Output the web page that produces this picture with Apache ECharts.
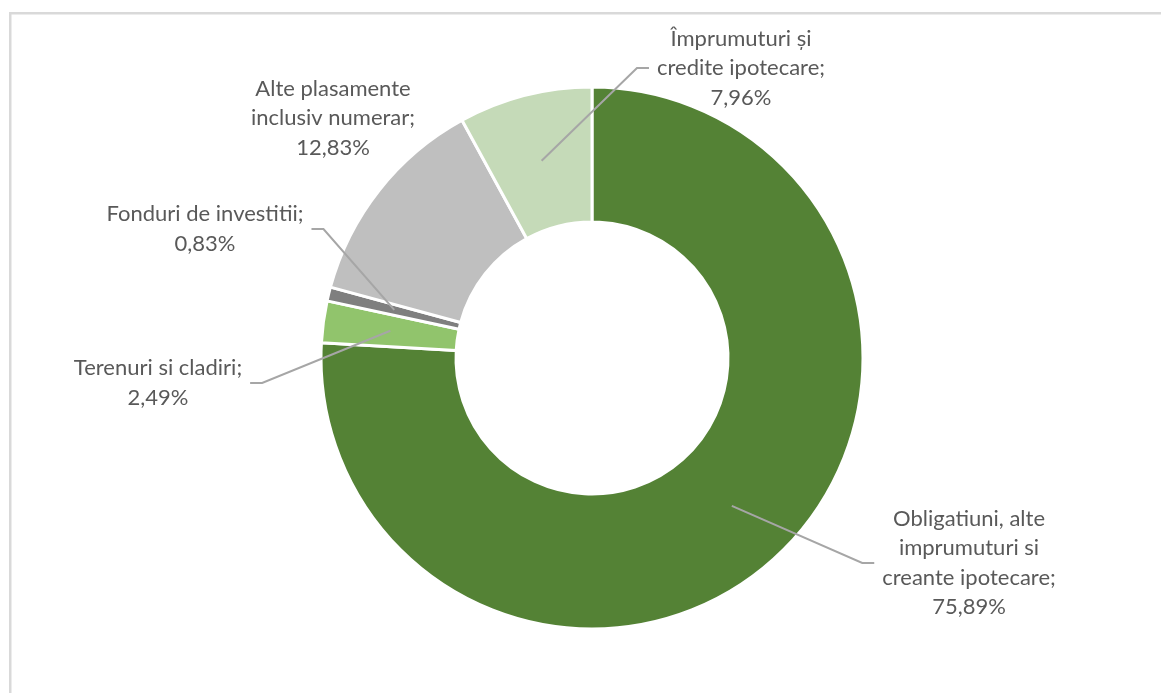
<!DOCTYPE html>
<html>
<head>
<meta charset="utf-8">
<title>Structura plasamentelor</title>
<script src="https://cdn.jsdelivr.net/npm/echarts@6/dist/echarts.min.js"></script>
<style>
  html, body { margin: 0; padding: 0; background: #ffffff; }
  #chart { width: 1161px; height: 693px; }
</style>
</head>
<body>
<div id="chart"></div>
<script>
// Categories (line breaks as shown in the labels) and their shares in percent
const categories = [
  'Obligatiuni, alte\nimprumuturi si\ncreante ipotecare',
  'Terenuri si cladiri',
  'Fonduri de investitii',
  'Alte plasamente\ninclusiv numerar',
  'Împrumuturi și\ncredite ipotecare'
];
const shares = [75.89, 2.49, 0.83, 12.83, 7.96];
const sliceColors = ['#548235', '#91C46C', '#7F7F7F', '#BFBFBF', '#C5DAB8'];

// Label block centres and whether a leader line is drawn
const labelSpots = [
  { x: 969, y: 563, leader: true },
  { x: 158, y: 383, leader: true },
  { x: 205, y: 229, leader: true },
  { x: 333, y: 118, leader: false },
  { x: 741, y: 68, leader: true }
];

const CENTER = [592, 358];
const R_IN = 136, R_OUT = 271;
const LABEL_FONT = 'Lato, "Open Sans", sans-serif';

// Mid-angle of each slice (clockwise from 12 o'clock) -> anchor in the middle of the ring
const total = shares.reduce((a, b) => a + b, 0);
function anchorOf(i) {
  let before = 0;
  for (let k = 0; k < i; k++) before += shares[k];
  const frac = (before + shares[i] / 2) / total;
  const ang = frac * Math.PI * 2;
  const r = (R_IN + R_OUT) / 2;
  return [CENTER[0] + r * Math.sin(ang), CENTER[1] - r * Math.cos(ang)];
}

const pieBase = {
  type: 'pie',
  center: CENTER,
  radius: [R_IN, R_OUT],
  startAngle: 90,
  clockwise: true,
  avoidLabelOverlap: false,
  silent: true
};

const chart = echarts.init(document.getElementById('chart'), null, { renderer: 'canvas' });

chart.setOption({
  backgroundColor: '#ffffff',
  animation: false,
  graphic: [
    { type: 'rect', shape: { x: 9, y: 12, width: 1152, height: 2.5 }, style: { fill: '#D9D9D9' }, silent: true },
    { type: 'rect', shape: { x: 9, y: 12, width: 2.5, height: 681 }, style: { fill: '#D9D9D9' }, silent: true }
  ],
  series: [
    // The ring itself
    Object.assign({}, pieBase, {
      z: 2,
      itemStyle: { borderColor: '#ffffff', borderWidth: 3 },
      label: { show: false },
      labelLine: { show: false },
      data: categories.map((name, i) => ({
        name: name,
        value: shares[i],
        itemStyle: { color: sliceColors[i] }
      }))
    }),
    // Same ring, invisible, carrying the labels so the leader lines sit on top of the slices
    Object.assign({}, pieBase, {
      z: 3,
      itemStyle: { color: 'rgba(0,0,0,0)', borderWidth: 0 },
      label: {
        show: true,
        position: 'outside',
        color: '#595959',
        fontFamily: LABEL_FONT,
        fontSize: 22,
        lineHeight: 29.5,
        align: 'center',
        formatter: (p) => p.name + ';\n' + p.value.toFixed(2).replace('.', ',') + '%'
      },
      labelLine: {
        show: true,
        lineStyle: { color: '#A6A6A6', width: 2 }
      },
      labelLayout: (params) => {
        const i = params.dataIndex;
        const spot = labelSpots[i];
        const out = { x: spot.x, y: spot.y, align: 'center', verticalAlign: 'middle' };
        if (spot.leader) {
          const a = anchorOf(i);
          const w = params.labelRect.width;
          const side = spot.x > a[0] ? -1 : 1;
          const endX = spot.x + side * (w / 2 + 8);
          const elbowX = endX + side * 12;
          out.labelLinePoints = [a, [elbowX, spot.y], [endX, spot.y]];
        }
        return out;
      },
      data: categories.map((name, i) => ({
        name: name,
        value: shares[i],
        labelLine: { show: labelSpots[i].leader }
      }))
    })
  ]
});
</script>
</body>
</html>
